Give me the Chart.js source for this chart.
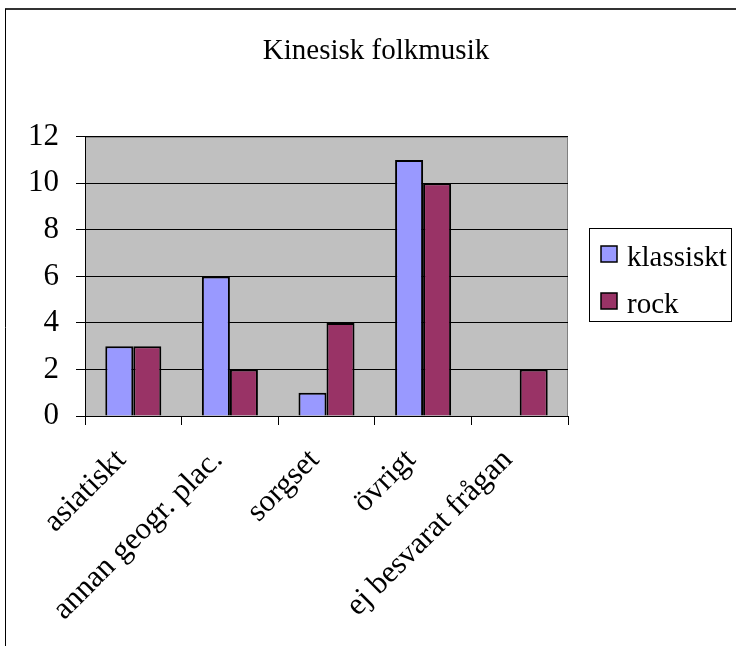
<!DOCTYPE html>
<html>
<head>
<meta charset="utf-8">
<script src="https://cdn.jsdelivr.net/npm/chart.js@4/dist/chart.umd.min.js"></script>
<style>
  html, body { margin: 0; padding: 0; background: #fff; }
  #wrap { width: 736px; height: 646px; }
</style>
</head>
<body>
<div id="wrap"><canvas id="c" width="736" height="646"></canvas></div>
<script>
// Answers per category, one array per music type
const categories = ['asiatiskt', 'annan geogr. plac.', 'sorgset', 'övrigt', 'ej besvarat frågan'];
const klassiskt = [3, 6, 1, 11, 0];
const rock = [3, 2, 4, 10, 2];
const seriesNames = ['klassiskt', 'rock'];
const yTickValues = [0, 2, 4, 6, 8, 10, 12];

const SERIF = "'Liberation Serif', 'Times New Roman', serif";
const TEXT_SIZE = 29;
const AXIS_SIZE = 31;

// Grey plot background, white page, outer frame
const framePlugin = {
  id: 'frame',
  beforeDraw(chart) {
    const { ctx, chartArea: a, width, height } = chart;
    ctx.save();
    ctx.fillStyle = '#ffffff';
    ctx.fillRect(0, 0, width, height);
    ctx.fillStyle = '#C0C0C0';
    ctx.fillRect(a.left, a.top, a.right - a.left, a.bottom - a.top);
    ctx.strokeStyle = '#808080';
    ctx.lineWidth = 1;
    ctx.strokeRect(a.left + 0.5, a.top + 0.5, a.right - a.left - 1, a.bottom - a.top);
    ctx.restore();
  },
  afterDraw(chart) {
    const { ctx, width, height } = chart;
    ctx.save();
    // top edge of the chart frame
    ctx.strokeStyle = '#333333';
    ctx.lineWidth = 2;
    ctx.beginPath();
    ctx.moveTo(5, 9);
    ctx.lineTo(width, 9);
    ctx.stroke();
    // left edge
    ctx.strokeStyle = '#000000';
    ctx.lineWidth = 1;
    ctx.beginPath();
    ctx.moveTo(5.5, 9);
    ctx.lineTo(5.5, height);
    ctx.stroke();
    ctx.restore();
  }
};

// Boxed legend at the right of the plot
const boxLegendPlugin = {
  id: 'boxLegend',
  afterDraw(chart) {
    const { ctx } = chart;
    const box = { x: 589.5, y: 228.5, w: 142, h: 93 };
    ctx.save();
    ctx.strokeStyle = '#000';
    ctx.lineWidth = 1;
    ctx.strokeRect(box.x, box.y, box.w, box.h);
    ctx.font = TEXT_SIZE + 'px ' + SERIF;
    ctx.textBaseline = 'alphabetic';
    ctx.textAlign = 'left';
    chart.data.datasets.forEach((ds, i) => {
      const sy = 246 + i * 47;
      ctx.fillStyle = ds.backgroundColor;
      ctx.fillRect(601, sy, 16, 16);
      ctx.strokeStyle = '#000';
      ctx.lineWidth = 1.5;
      ctx.strokeRect(601, sy, 16, 16);
      ctx.fillStyle = '#000';
      ctx.fillText(ds.label, 627, sy + 20);
    });
    ctx.restore();
  }
};

new Chart(document.getElementById('c'), {
  type: 'bar',
  data: {
    labels: categories,
    datasets: [
      {
        label: seriesNames[0],
        data: klassiskt,
        backgroundColor: '#9999FF',
        borderColor: '#000000',
        borderWidth: 2,
        categoryPercentage: 0.58,
        barPercentage: 1.0
      },
      {
        label: seriesNames[1],
        data: rock,
        backgroundColor: '#993366',
        borderColor: '#000000',
        borderWidth: 2,
        categoryPercentage: 0.58,
        barPercentage: 1.0
      }
    ]
  },
  options: {
    responsive: false,
    animation: false,
    devicePixelRatio: 1,
    layout: { padding: { left: 16, right: 0, top: 0, bottom: 0 } },
    plugins: {
      legend: { display: false },
      tooltip: { enabled: false },
      title: {
        display: true,
        text: 'Kinesisk folkmusik',
        color: '#000',
        font: { family: SERIF, size: TEXT_SIZE, weight: 'normal' },
        padding: { top: 34, bottom: 68 }
      }
    },
    scales: {
      x: {
        grid: {
          display: true,
          drawOnChartArea: false,
          drawTicks: true,
          tickLength: 9,
          color: '#000',
          offset: true
        },
        border: { display: true, color: '#000', width: 1 },
        ticks: {
          autoSkip: false,
          maxRotation: 45,
          minRotation: 45,
          labelOffset: -12,
          color: '#000',
          padding: 17,
          font: { family: SERIF, size: AXIS_SIZE }
        },
        afterFit(scale) { scale.height = 230; }
      },
      y: {
        min: 0,
        max: 12,
        afterBuildTicks(scale) {
          scale.ticks = yTickValues.map(v => ({ value: v }));
        },
        grid: {
          color: '#000',
          lineWidth: 1,
          drawTicks: true,
          tickLength: 9
        },
        border: { display: true, color: '#000', width: 1 },
        ticks: {
          color: '#000',
          padding: 17,
          font: { family: SERIF, size: AXIS_SIZE }
        },
        afterFit(scale) { scale.width = 69; }
      },
      // empty right-hand axis that keeps room for the legend box
      legendSpace: {
        type: 'linear',
        position: 'right',
        display: true,
        grid: { display: false, drawTicks: false },
        border: { display: false },
        ticks: { display: false },
        afterFit(scale) { scale.width = 168; }
      }
    }
  },
  plugins: [framePlugin, boxLegendPlugin]
});
</script>
</body>
</html>
